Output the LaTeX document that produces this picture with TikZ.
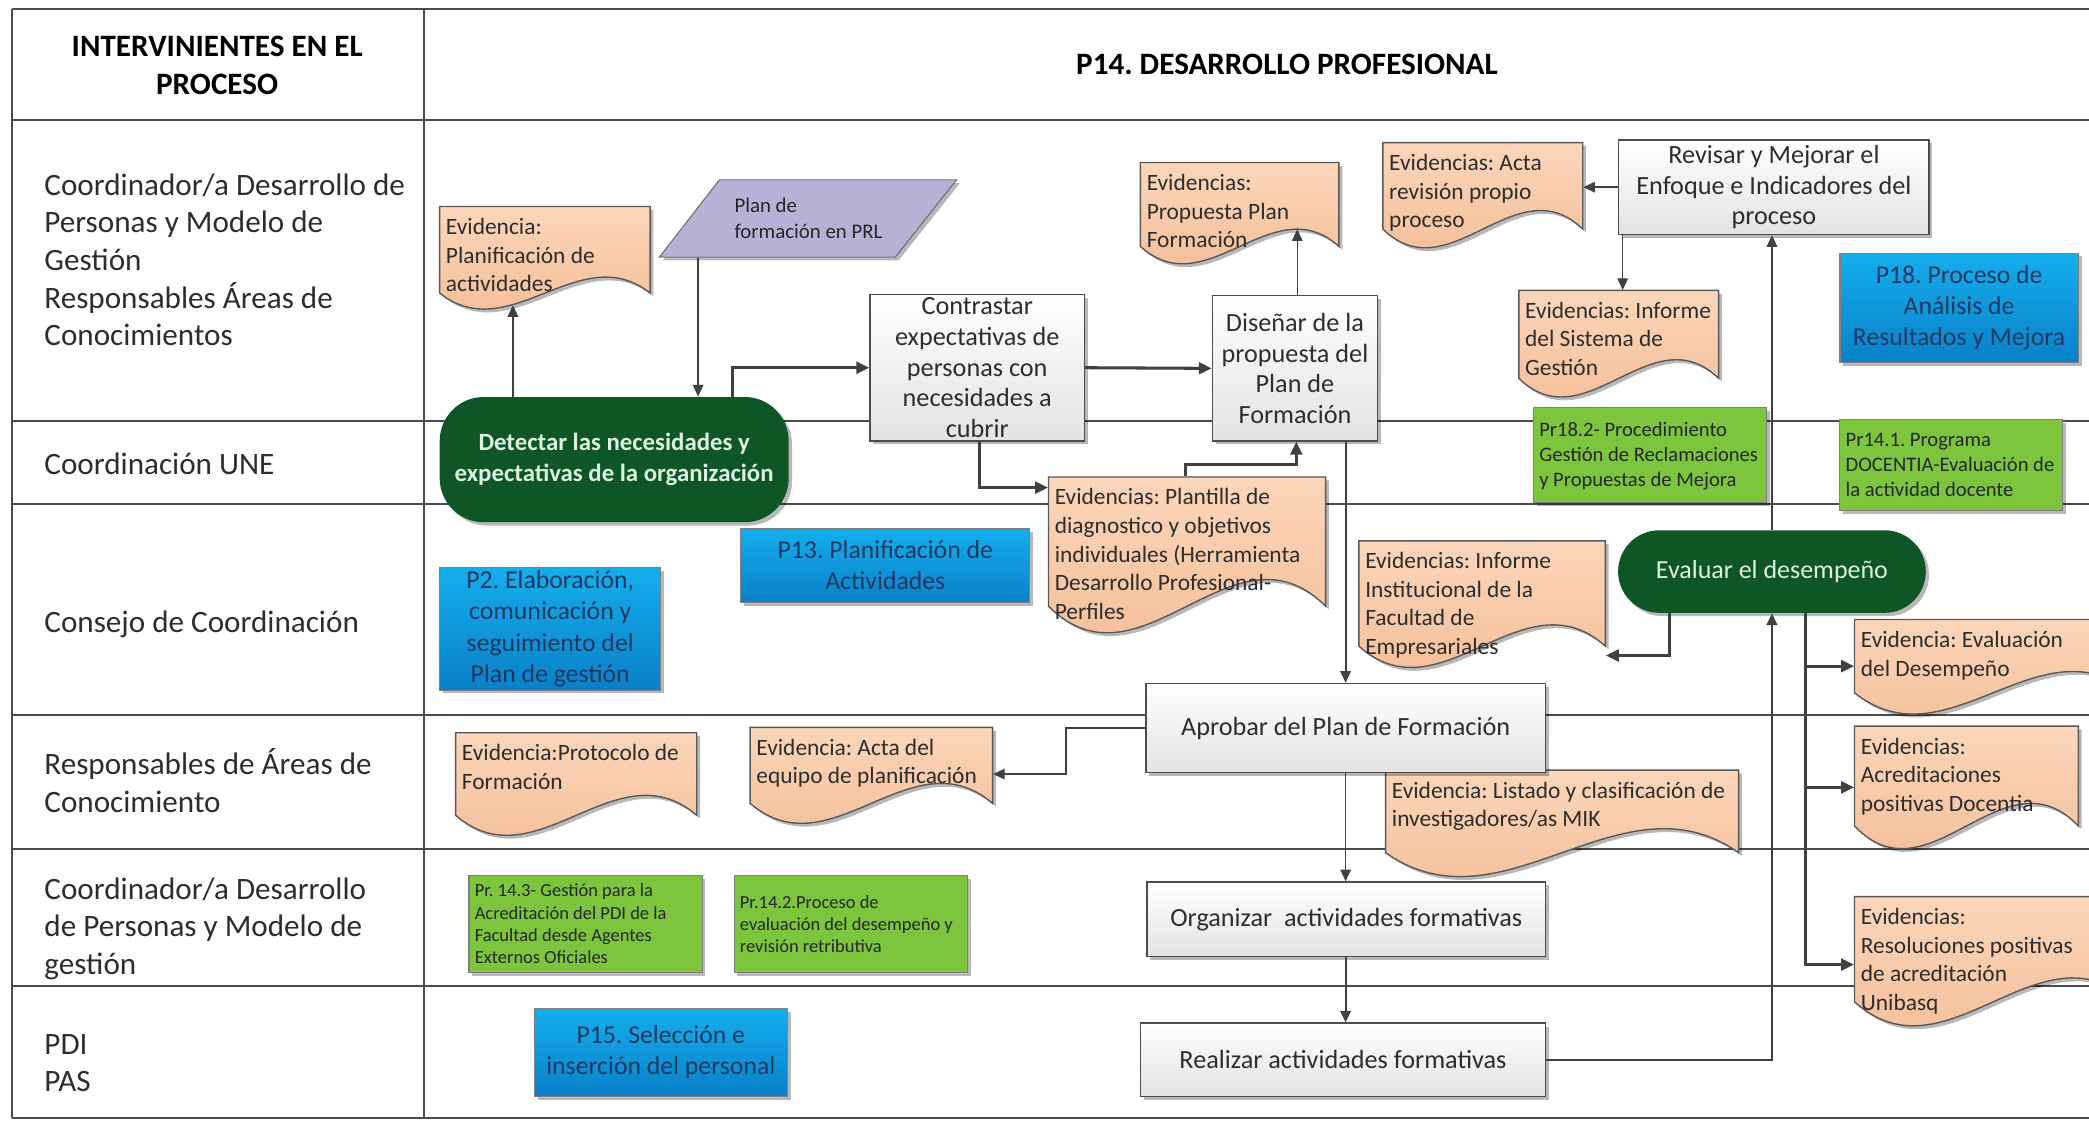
\documentclass[tikz,border=0pt]{standalone}
\usepackage{fontspec}
\setmainfont{Carlito}
\usetikzlibrary{arrows.meta,shadows,fit}
\frenchspacing

\definecolor{doctop}{RGB}{251,214,186}
\definecolor{docbot}{RGB}{243,184,143}
\definecolor{darkgreen}{RGB}{14,86,38}
\definecolor{termtext}{RGB}{220,242,226}
\definecolor{procblue}{RGB}{20,174,236}
\definecolor{procbluedark}{RGB}{10,128,200}
\definecolor{bluetext}{RGB}{30,56,100}
\definecolor{prgreen}{RGB}{124,197,60}
\definecolor{lavender}{RGB}{184,177,214}
\definecolor{linegray}{RGB}{75,75,75}
\definecolor{txtgray}{RGB}{45,45,45}

\tikzset{
  laneline/.style={draw=linegray, line width=0.8pt},
  lanelabel/.style={anchor=west, align=left, inner sep=0pt, text=txtgray,
    font=\fontsize{13.3}{16.1}\selectfont},
  headtext/.style={align=center, inner sep=0pt, text=black,
    font=\bfseries\fontsize{13.3}{16.1}\selectfont},
  soft shadow/.style={drop shadow={shadow xshift=0.05cm, shadow yshift=-0.05cm,
    opacity=0.28, fill=black}},
  procbox/.style={draw=black!70, line width=0.6pt, top color=white, bottom color=black!11,
    align=center, inner sep=0pt, text=txtgray, font=\fontsize{11.2}{13.1}\selectfont, soft shadow},
  termnode/.style={fill=darkgreen, draw=none, text=termtext, align=center, inner sep=0pt,
    font=\fontsize{11.1}{13.3}\selectfont, soft shadow},
  refbox/.style={draw=black!50, line width=0.5pt, top color=procblue, bottom color=procbluedark,
    text=bluetext, align=center, inner sep=0pt, font=\fontsize{11}{13.3}\selectfont, soft shadow},
  subproc/.style={draw=black!50, line width=0.5pt, fill=prgreen, text=black!85, inner sep=0pt, soft shadow},
  subtext/.style={align=left, inner sep=0pt, text=black!85},
  docshape/.style={draw=black!65, line width=0.6pt, top color=doctop, bottom color=docbot, soft shadow},
  doctext/.style={align=left, inner xsep=2.5pt, inner ysep=4.8pt, text=txtgray,
    font=\fontsize{10}{12.2}\selectfont},
  conn/.style={draw=black!75, line width=0.6pt, -{Triangle[length=5pt,width=4.5pt]}},
  connmid/.style={draw=black!75, line width=0.9pt, -{Triangle[length=5pt,width=4.5pt]}},
  connbold/.style={draw=black!75, line width=1.3pt, -{Triangle[length=5.5pt,width=5pt]}},
}

% document symbol: name, x1, y1, x2, y-bottom of the sides, wave amplitude, text
\newcommand\docbox[7]{%
  \pgfmathsetmacro\dcXa{#2+(#4-#2)/3}%
  \pgfmathsetmacro\dcXb{#2+2*(#4-#2)/3}%
  \pgfmathsetmacro\dcYa{#5+3.46*#6}%
  \pgfmathsetmacro\dcYb{#5-3.46*#6}%
  \pgfmathsetmacro\dcXc{#2+0.79*(#4-#2)}%
  \pgfmathsetmacro\dcYc{#5-#6}%
  \path[docshape] (#2,#3) -- (#4,#3) -- (#4,#5)
     .. controls (\dcXb,\dcYb) and (\dcXa,\dcYa) .. (#2,#5) -- cycle;
  \node[inner sep=0pt, fit={(#2,#3) (#4,#5)}] (#1) {};
  \coordinate (#1-crest) at (\dcXc,\dcYc);
  \node[doctext, anchor=north west] (#1-t) at (#2,#3) {#7};
}

\begin{document}
\begin{tikzpicture}[x=0.02cm, y=-0.02cm]
\useasboundingbox (0,0) rectangle (1568,841);
\fill[white] (0,0) rectangle (1568,841);
\clip (0,0) rectangle (1568,841);

% ---- swimlane grid ----
\draw[laneline] (9,7) -- (1568,7);
\draw[laneline] (9,7) -- (9,839);
\draw[laneline] (318,7) -- (318,839);
\foreach \yy in {90,316,378,537,637,740,839}
  \draw[laneline] (9,\yy) -- (1568,\yy);

% ---- headings ----
\node[headtext] (hdrA) at (163,49) {INTERVINIENTES EN EL\\PROCESO};
\node[headtext] (hdrB) at (966,48) {P14. DESARROLLO PROFESIONAL};

% ---- lane labels ----
\node[lanelabel] (laneA) at (33,195) {Coordinador/a Desarrollo de\\Personas y Modelo de\\Gestión\\Responsables Áreas de\\Conocimientos};
\node[lanelabel] (laneB) at (33,348) {Coordinación UNE};
\node[lanelabel] (laneC) at (33,469) {Consejo de Coordinación};
\node[lanelabel] (laneD) at (33,586) {Responsables de Áreas de\\Conocimiento};
\node[lanelabel] (laneE) at (33,697) {Coordinador/a Desarrollo\\de Personas y Modelo de\\gestión};
\node[lanelabel] (laneF) at (33,798) {PDI\\PAS};

% ---- input data (parallelogram) ----
\path[draw=black!55, line width=0.5pt, fill=lavender, soft shadow]
  (540,135) -- (718,135) -- (672,193) -- (495,193) -- cycle;
\node[inner sep=0pt, fit={(495,135) (718,193)}] (para) {};
\node[anchor=west, align=left, inner sep=0pt, text=black!85,
  font=\fontsize{8.9}{11.4}\selectfont] (para-t) at (551,164) {Plan de\\formación en PRL};

% ---- evidence documents ----
\docbox{planif}{330}{155}{488}{220}{12}{Evidencia:\\Planificación de\\actividades}
\docbox{prop}{856}{122}{1005}{185}{13}{Evidencias:\\Propuesta Plan\\Formación}
\docbox{plant}{787}{358}{995}{455}{20}{Evidencias: Plantilla de\\diagnostico y objetivos\\individuales (Herramienta\\Desarrollo Profesional-\\Perfiles}
\docbox{actarev}{1038}{107}{1188}{172}{14}{Evidencias: Acta\\revisión propio\\proceso}
\docbox{infsis}{1140}{218}{1290}{284}{14}{Evidencias: Informe\\del Sistema de\\Gestión}
\docbox{inst}{1020}{406}{1205}{485}{16}{Evidencias: Informe\\Institucional de la\\Facultad de\\Empresariales}
\docbox{prot}{342}{550}{523}{612}{15}{Evidencia:Protocolo de\\Formación}
\docbox{actaeq}{563}{546}{745}{603}{15}{Evidencia: Acta del\\equipo de planificación}
\docbox{listado}{1040}{578}{1305}{640}{18}{Evidencia: Listado y clasificación de\\investigadores/as MIK}
\docbox{evdes}{1392}{465}{1600}{520}{16}{Evidencia: Evaluación\\del Desempeño}
\docbox{acred}{1392}{545}{1560}{620}{17}{Evidencias:\\Acreditaciones\\positivas Docentia}
\docbox{resol}{1392}{673}{1600}{752}{18}{Evidencias:\\Resoluciones positivas\\de acreditación\\Unibasq}

% ---- terminators ----
\node[termnode, font=\bfseries\fontsize{10.6}{13.3}\selectfont, minimum width=5.24cm,
  minimum height=1.88cm, rounded corners=0.66cm] (detect) at (461,345)
  {Detectar las necesidades y\\expectativas de la organización};
\node[termnode, minimum width=4.62cm, minimum height=1.24cm, rounded corners=0.62cm]
  (eval) at (1330,429) {Evaluar el desempeño};

% ---- process steps ----
\node[procbox, minimum width=3.22cm, minimum height=2.2cm] (contr) at (733.5,276)
  {Contrastar\\expectativas de\\personas con\\necesidades a\\cubrir};
\node[procbox, minimum width=2.48cm, minimum height=2.18cm] (dis) at (972,276.5)
  {Diseñar de la\\propuesta del\\Plan de\\Formación};
\node[procbox, minimum width=6.0cm, minimum height=1.34cm] (aprob) at (1010,546.5)
  {Aprobar del Plan de Formación};
\node[procbox, minimum width=5.98cm, minimum height=1.12cm] (org) at (1010.5,690)
  {Organizar~~actividades formativas};
\node[procbox, minimum width=6.08cm, minimum height=1.10cm] (real) at (1008,795.5)
  {Realizar actividades formativas};
\node[procbox, minimum width=4.66cm, minimum height=1.42cm] (rev) at (1331.5,140.5)
  {Revisar y Mejorar el\\Enfoque e Indicadores del\\proceso};

% ---- related processes ----
\node[refbox, minimum width=3.58cm, minimum height=1.64cm] (p18) at (1470.5,231)
  {P18. Proceso de\\Análisis de\\Resultados y Mejora};
\node[refbox, minimum width=4.34cm, minimum height=1.10cm] (p13) at (664.5,424.5)
  {P13. Planificación de\\Actividades};
\node[refbox, minimum width=3.32cm, minimum height=1.84cm] (p2) at (413,472)
  {P2. Elaboración,\\comunicación y\\seguimiento del\\Plan de gestión};
\node[refbox, minimum width=3.80cm, minimum height=1.32cm] (p15) at (496,790)
  {P15. Selección e\\inserción del personal};

% ---- procedures ----
\node[subproc, minimum width=3.5cm, minimum height=1.42cm] (pr182) at (1238.5,341.5) {};
\node[subtext, anchor=west, font=\fontsize{8.8}{10.8}\selectfont] (pr182-t) at (1155,342.5)
  {Pr18.2- Procedimiento\\Gestión de Reclamaciones\\y Propuestas de Mejora};
\node[subproc, minimum width=3.34cm, minimum height=1.36cm] (pr141) at (1464.5,349) {};
\node[subtext, anchor=west, font=\fontsize{8.8}{10.8}\selectfont] (pr141-t) at (1385,349)
  {Pr14.1. Programa\\DOCENTIA-Evaluación de\\la actividad docente};
\node[subproc, minimum width=3.5cm, minimum height=1.46cm] (pr143) at (439.5,693.5) {};
\node[subtext, anchor=west, font=\fontsize{7.9}{9.5}\selectfont] (pr143-t) at (356,693.5)
  {Pr. 14.3- Gestión para la\\Acreditación del PDI de la\\Facultad desde Agentes\\Externos Oficiales};
\node[subproc, minimum width=3.5cm, minimum height=1.46cm] (pr142) at (638.5,693.5) {};
\node[subtext, anchor=west, font=\fontsize{7.9}{9.5}\selectfont] (pr142-t) at (555,693.5)
  {Pr.14.2.Proceso de\\evaluación del desempeño y\\revisión retributiva};

% ---- connectors ----
\coordinate (planif-in) at (385,229);
\draw[conn] (385,0 |- detect.north) -- (planif-in);
\draw[conn] (524,0 |- para.south) -- (524,0 |- detect.north);
\draw[connbold] (550,0 |- detect.north) |- (contr.west);
\draw[connbold] (contr.east) -- (dis.west);
\draw[connbold] (735,0 |- contr.south) |- (plant.west |- 0,366);
\draw[connbold] (890,0 |- plant.north) -- (890,349) -| (973,0 |- dis.south);
\draw[conn] (prop-crest |- dis.north) -- (prop-crest);
\draw[connmid] (1010,0 |- dis.south) -- (1010,0 |- aprob.north);
\draw[conn] (aprob.west) -- (800,0 |- aprob.west) |- (actaeq.east |- 0,581);
\draw[conn] (1010,0 |- aprob.south) -- (1010,0 |- org.north);
\draw[connmid] (1010,0 |- org.south) -- (1010,0 |- real.north);
\draw[connmid] (real.east) -| (eval.south);
\draw[connmid] (eval.north) -- (eval.north |- rev.south);
\draw[conn] (rev.west) -- (actarev.east |- rev.west);
\draw[conn] (1218,0 |- rev.south) -- (1218,0 |- infsis.north);
\draw[connbold] (1253,0 |- eval.south) |- (inst.east |- 0,492);
\draw[connbold] (1355,0 |- eval.south) |- (evdes.west |- 0,500);
\draw[connbold] (1355,0 |- eval.south) |- (acred.west |- 0,591);
\draw[connbold] (1355,0 |- eval.south) |- (resol.west |- 0,724);
\end{tikzpicture}
\end{document}
